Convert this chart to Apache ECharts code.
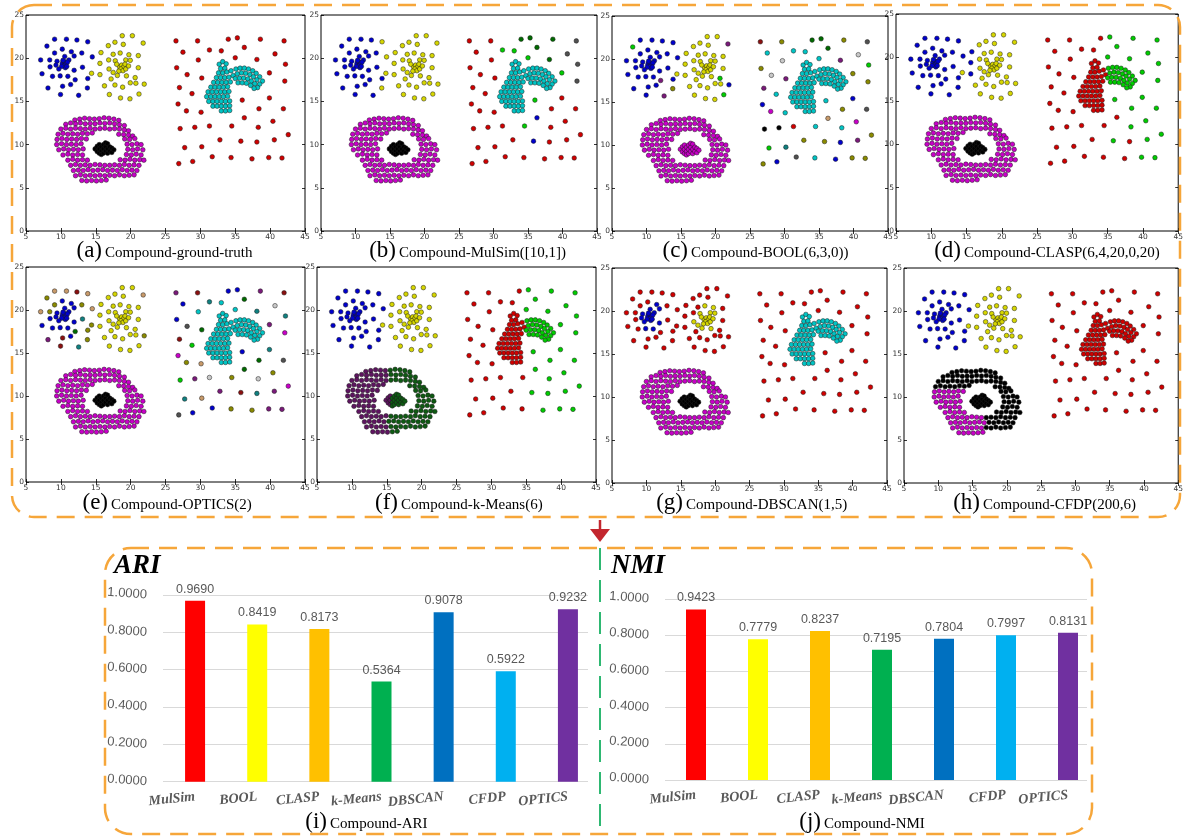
<!DOCTYPE html>
<html>
<head>
<meta charset="utf-8">
<script src="https://cdn.jsdelivr.net/npm/echarts@6/dist/echarts.min.js"></script>
<style>
html,body{margin:0;padding:0;background:#fff;}
#chart{width:1186px;height:838px;}
</style>
</head>
<body>
<div id="chart"></div>
<script>
// ---------------- Compound data set (x, y) grouped by structure ----------------
const blueXY = [
  [9.1,22.2],[10.8,22.2],[12.3,22.1],[13.85,21.9],[8.0,21.4],[10.2,21.05],[9.1,20.6],[11.5,20.75],[13.0,20.6],[14.5,20.15],
  [7.1,19.8],[8.4,19.8],[9.45,19.65],[10.55,20.2],[11.9,20.25],[11.15,19.8],
  [10.2,19.4],[10.5,19.6],[10.75,19.35],[10.4,19.1],[10.65,18.9],[10.95,19.55],[10.3,19.75],[10.85,19.05],[10.1,19.05],
  [9.3,19.2],[8.45,19.0],[9.7,18.75],[11.9,18.6],[13.1,18.95],
  [7.3,18.2],[8.8,17.9],[9.9,17.95],[11.0,17.9],[13.85,17.65],[12.05,17.5],
  [10.25,16.75],[11.4,16.95],[8.15,16.55],[9.95,15.8],[12.55,15.7],[13.8,16.55]
];
const yellowXY = [
  [18.8,22.6],[20.25,22.6],[17.75,21.85],[18.95,21.6],[21.8,21.75],[16.8,21.45],[15.75,20.65],[17.5,20.45],[18.5,20.6],[19.75,20.4],
  [21.1,20.3],[15.6,19.4],[16.85,19.8],[17.8,19.7],[19.3,19.8],[19.95,19.75],[21.1,18.9],
  [18.4,19.0],[18.7,19.2],[19.0,19.0],[18.6,18.75],[18.9,18.55],[19.2,19.3],[18.3,18.5],[19.3,18.75],
  [16.9,18.75],[17.5,18.35],[18.1,18.0],[19.4,17.95],[20.65,17.75],
  [14.4,18.25],[15.6,18.1],[17.2,17.6],[20.75,17.1],[21.95,17.0],
  [16.25,16.8],[17.75,16.9],[18.85,16.65],[19.95,17.15],
  [16.95,15.8],[18.55,15.4],[19.9,15.3],[21.2,15.85],
  [18.0,19.3],[19.7,19.1]
];
const sparseXY = [
  [26.5,22.0],[29.6,22.0],[27.5,20.7],[31.3,20.95],[33.0,20.85],[34.0,22.2],[35.3,22.35],[38.6,22.2],[42.0,22.0],[36.3,21.25],
  [35.0,20.05],[29.7,19.8],[38.1,19.85],[40.7,20.5],[42.2,19.3],[26.6,18.9],[28.1,18.1],[30.2,17.7],[39.9,18.3],[42.1,17.35],
  [27.0,16.6],[28.8,15.9],[26.8,14.7],[36.0,15.15],[39.9,15.4],[28.0,13.9],[30.1,13.75],[38.4,14.15],[41.9,14.15],[36.3,13.1],
  [40.4,12.7],[27.1,11.85],[29.2,12.0],[31.3,12.15],[34.5,12.15],[38.3,12.0],[42.6,11.15],[32.8,10.55],[35.8,10.4],[38.1,10.3],
  [40.6,10.55],[27.75,9.65],[30.2,9.75],[31.7,8.6],[34.4,8.5],[37.4,8.35],[39.8,8.5],[41.7,8.45],[26.9,7.8],[28.9,8.05]
];
const arcLeftXY = [
  [32.7,19.3],[33.2,19.6],[33.7,19.35],[32.9,18.8],[33.5,18.85],[32.6,18.3],[33.2,18.3],[33.8,18.4],
  [32.3,17.75],[32.9,17.75],[33.5,17.75],[34.1,17.8],
  [31.9,17.2],[32.5,17.2],[33.1,17.2],[33.7,17.2],[34.3,17.25],
  [31.5,16.65],[32.1,16.65],[32.7,16.65],[33.3,16.65],[33.9,16.7],
  [31.1,16.1],[31.7,16.1],[32.3,16.1],[32.9,16.1],[33.5,16.1],[34.1,16.15],
  [30.9,15.55],[31.5,15.55],[32.1,15.55],[32.7,15.55],[33.3,15.55],[33.9,15.6],
  [31.2,15.0],[31.8,15.0],[32.4,15.0],[33.0,15.0],[33.6,15.0],[34.2,15.05],
  [31.8,14.45],[32.4,14.45],[33.0,14.45],[33.6,14.45],[34.2,14.5],
  [33.0,13.9],[33.6,13.9],[34.2,13.95],
  [34.4,18.55],[34.7,18.0]
];
const arcRightXY = [
  [35.1,18.75],[35.7,18.85],[36.3,18.85],[36.9,18.75],[37.5,18.55],[38.0,18.25],[38.5,17.85],[38.9,17.35],
  [35.3,18.2],[35.9,18.3],[36.5,18.25],[37.1,18.1],[37.6,17.85],[38.1,17.5],[38.5,17.0],
  [35.0,17.65],[35.6,17.7],[36.2,17.7],[36.8,17.6],[37.3,17.35],[37.8,17.05],[38.2,16.6],
  [35.4,17.15],[36.0,17.15],[36.6,17.1],[37.2,16.85],[37.7,16.5]
];
const ringUpperLeftXY = [
  [12.0,12.85],[12.7,12.95],[13.4,13.05],[14.1,13.0],[14.8,12.95],
  [10.7,12.35],[11.4,12.5],[12.1,12.4],[12.8,12.5],[13.5,12.4],[14.2,12.45],[14.9,12.4],
  [10.0,11.8],[10.7,11.9],[11.4,11.8],[12.1,11.9],[12.8,11.85],[13.5,11.8],[14.2,11.9],[14.9,11.8],
  [9.6,11.2],[10.3,11.3],[11.0,11.2],[11.7,11.25],[12.4,11.2],[13.1,11.3],[13.8,11.25],[14.5,11.35]
];
const ringUpperRightXY = [
  [15.5,13.0],[16.2,13.1],[16.9,13.05],[17.6,12.95],[18.3,12.8],
  [15.6,12.5],[16.3,12.45],[17.0,12.5],[17.7,12.4],[18.4,12.3],[19.1,12.2],
  [15.6,11.85],[16.3,11.9],[17.0,11.8],[17.7,11.85],[18.4,11.8],[19.1,11.7],[19.7,11.6],
  [18.3,11.2],[19.0,11.15],[19.7,11.1],[20.3,11.0]
];
const ringLowerLeftXY = [
  [9.45,10.6],[10.15,10.7],[10.85,10.6],[11.55,10.65],[12.25,10.6],[12.95,10.7],[13.65,10.65],
  [9.4,10.0],[10.1,10.1],[10.8,10.0],[11.5,10.05],[12.2,10.0],[12.9,10.1],
  [9.7,9.4],[10.4,9.5],[11.1,9.4],[11.8,9.45],[12.5,9.4],[13.2,9.5],
  [10.3,8.8],[11.0,8.9],[11.7,8.8],[12.4,8.85],[13.1,8.8],
  [11.0,8.2],[11.7,8.3],[12.4,8.2],[13.1,8.25],[13.8,8.2],
  [11.4,7.6],[12.1,7.7],[12.8,7.6],[13.5,7.65],[14.2,7.6],[14.9,7.7],
  [11.8,7.0],[12.5,7.05],[13.2,7.0],[13.9,7.1],[14.6,7.0],
  [12.1,6.4],[12.8,6.5],[13.5,6.4],[14.2,6.45],[14.9,6.4],
  [13.0,5.85],[13.7,5.8],[14.4,5.85],[15.1,5.8]
];
const ringLowerMidXY = [
  [15.6,7.65],[16.3,7.6],[15.3,7.05],[16.0,7.1],[16.7,7.0],[15.6,6.45],[16.3,6.4],[15.8,5.85],[16.5,5.9]
];
const ringLowerRightXY = [
  [19.15,10.65],[19.85,10.6],[20.6,10.7],
  [19.5,10.05],[20.2,10.0],[20.9,10.1],[21.5,10.0],
  [19.6,9.45],[20.3,9.4],[21.0,9.5],[21.75,9.4],
  [19.4,8.85],[20.1,8.8],[20.8,8.9],[21.5,8.8],
  [18.5,8.25],[19.2,8.2],[19.9,8.3],[20.6,8.2],[21.3,8.25],[21.9,8.2],
  [17.0,7.6],[17.7,7.65],[18.4,7.6],[19.1,7.7],[19.8,7.6],[20.5,7.65],[21.2,7.6],
  [17.4,7.05],[18.1,7.0],[18.8,7.1],[19.5,7.0],[20.2,7.05],[20.9,7.0],
  [17.0,6.45],[17.7,6.4],[18.4,6.5],[19.1,6.4],[19.8,6.45],[20.5,6.5]
];
const coreLeftXY = [[14.9,9.5],[15.2,9.2],[15.2,9.8],[15.5,9.0],[15.5,9.5],[15.5,10.0]];
const coreRightXY = [
  [15.8,9.25],[15.8,9.75],[15.8,8.85],[16.1,9.0],[16.1,9.5],[16.1,10.0],[16.4,9.25],[16.4,9.75],[16.4,10.2],
  [16.7,9.0],[16.7,9.5],[16.7,10.1],[17.0,9.25],[17.0,9.75],[17.3,9.1],[17.3,9.6],[17.6,9.4]
];

// ---------------- cluster labels of each method (one colour code per point) ----------------
function only(code, list) { const o = {}; list.forEach(i => { o[i] = code; }); return o; }
const panelLabels = [
  { blue:'b', yellow:'y', sparse:'r', arc:'c', ring:'m', core:'x' },
  { blue:{base:'b', ex:{3:'y',9:'y',41:'y'}}, yellow:'y',
    sparse:{base:'r', ex:{3:'g',4:'g',5:'G',6:'G',7:'G',8:'k',9:'G',10:'g',12:'G',13:'k',14:'k',18:'g',19:'k',23:'g',29:'b',34:'g',38:'b'}},
    arc:'c', ring:'m', core:'x' },
  { blue:{base:'b', ex:{4:'g',35:'p',40:'p',41:'o'}}, yellow:{base:'y', ex:{4:'p',29:'g',34:'b',42:'g'}},
    sparse:'RocccGGokGcwpwgowpoopcbcbmcoknmxxrccooobpgtkcbooob', arc:'c', ring:'m', core:'m' },
  { blue:'b', yellow:{base:'y', ex:{6:'b',11:'b',31:'b'}},
    sparse:{base:'r', ex:only('g',[6,7,8,9,10,12,13,14,18,19,23,24,27,28,30,35,36,38,40,46,47])},
    arcL:'r', arcR:'g', ring:'m', core:'x' },
  { blue:{base:'b', ex:{0:'n',1:'n',2:'R',3:'n',4:'o',6:'o',8:'o',9:'n',10:'n',11:'o',29:'t',34:'o',35:'G',36:'R',38:'p',39:'R',40:'t',41:'o'}},
    yellow:{base:'y', ex:{4:'n',30:'o',34:'o'}},
    sparse:'pRbtcbbpRGcctwtbkGpmRgmbtonGkGogpwowmpRtptnbooppkb', arc:'c', ring:'m', core:'x' },
  { blue:'b', yellow:'y',
    sparse:{base:'r', ex:only('g',[6,7,8,9,10,12,13,14,18,19,23,24,27,28,29,30,35,36,38,39,40,45,46,47])},
    arcL:'r', arcR:'g', ringUL:'P', ringLL:'P', ringUR:'D', ringLM:'D', ringLR:'D', coreL:'P', coreR:'D' },
  { blue:{base:'r', ex:only('b',[7,12,13,14,15,16,17,18,19,20,21,22,23,24,25,27,28,32,33])},
    yellow:{base:'r', ex:only('y',[8,9,13,14,15,17,18,19,20,21,22,23,24,25,26,27,28,43,44])},
    sparse:'r', arc:'c', ring:'m', core:'x' },
  { blue:'b', yellow:'y', sparse:'r', arc:'r', ringUL:'x', ringUR:'x', ringLR:'x', ringLL:'m', ringLM:'m', core:'x' }
];
const captionTags = ['(a)','(b)','(c)','(d)','(e)','(f)','(g)','(h)'];
const captionTexts = ['Compound-ground-truth','Compound-MulSim([10,1])','Compound-BOOL(6,3,0))','Compound-CLASP(6,4,20,0,20)',
  'Compound-OPTICS(2)','Compound-k-Means(6)','Compound-DBSCAN(1,5)','Compound-CFDP(200,6)'];
const xTicks = [5,10,15,20,25,30,35,40,45];
const yTicks = [0,5,10,15,20,25];

// ---------------- evaluation scores ----------------
const methods = ['MulSim','BOOL','CLASP','k-Means','DBSCAN','CFDP','OPTICS'];
const ariScores = [0.9690, 0.8419, 0.8173, 0.5364, 0.9078, 0.5922, 0.9232];
const nmiScores = [0.9423, 0.7779, 0.8237, 0.7195, 0.7804, 0.7997, 0.8131];
const scoreTicks = [0, 0.2, 0.4, 0.6, 0.8, 1.0];

// ---------------- styling ----------------
const PAL = {
  b:'#0000cc', y:'#d6d600', r:'#d00000', c:'#00c4c4', m:'#c800c8', x:'#000000',
  g:'#00cc00', G:'#006a00', k:'#505050', w:'#c8c8c8', p:'#7a1a7a', R:'#8a1010',
  o:'#8a8a00', t:'#108080', n:'#c89a6a', P:'#5e1460', D:'#0e5a12'
};
const barColors = ['#FF0000','#FFFF00','#FFC000','#00B050','#0070C0','#00B0F0','#7030A0'];
const ORANGE = '#F6A63A';

// scatter panel rectangles: [left, top, width, height]
const panelBoxes = [
  [26,15,279,216],[321,15,276,216],[612,16,276,215],[896,14,284,217],
  [26,267,279,215],[317,267,279,215],[612,268,275,215],[904,268,276,215]
];
const captionAnchors = [[102,258],[396,258],[688,258],[961,258],[108,510],[398,510],[683,510],[980,510]];

const groups = [
  ['sparse','sparse',sparseXY],['arcL','arc',arcLeftXY],['arcR','arc',arcRightXY],
  ['blue','blue',blueXY],['yellow','yellow',yellowXY],
  ['ringUL','ring',ringUpperLeftXY],['ringUR','ring',ringUpperRightXY],['ringLL','ring',ringLowerLeftXY],
  ['ringLM','ring',ringLowerMidXY],['ringLR','ring',ringLowerRightXY],
  ['coreL','core',coreLeftXY],['coreR','core',coreRightXY]
];
function codeOf(spec, i) {
  if (typeof spec === 'string') return spec.length === 1 ? spec : spec[i];
  return (spec.ex && spec.ex[i]) || spec.base;
}

const grid = [], xAxis = [], yAxis = [], series = [], graphic = [];
const tickFont = { fontFamily:'DejaVu Sans', fontSize:7.5, color:'#333' };

panelBoxes.forEach((bx, pi) => {
  grid.push({ left:bx[0], top:bx[1], width:bx[2], height:bx[3], show:true,
    borderColor:'#000', borderWidth:1, backgroundColor:'#fff' });
  const tick = { show:true, inside:true, length:3, lineStyle:{ color:'#000', width:0.8 } };
  xAxis.push({ gridIndex:pi, type:'value', min:xTicks[0], max:xTicks[xTicks.length-1], interval:5, position:'bottom',
    axisLine:{show:false}, axisTick:tick, splitLine:{show:false},
    axisLabel:Object.assign({ margin:2 }, tickFont) });
  xAxis.push({ gridIndex:pi, type:'value', min:xTicks[0], max:xTicks[xTicks.length-1], interval:5, position:'top',
    axisLine:{show:false}, axisTick:tick, splitLine:{show:false}, axisLabel:{show:false} });
  yAxis.push({ gridIndex:pi, type:'value', min:yTicks[0], max:yTicks[yTicks.length-1], interval:5, position:'left',
    axisLine:{show:false}, axisTick:tick, splitLine:{show:false},
    axisLabel:Object.assign({ margin:2 }, tickFont) });
  yAxis.push({ gridIndex:pi, type:'value', min:yTicks[0], max:yTicks[yTicks.length-1], interval:5, position:'right',
    axisLine:{show:false}, axisTick:tick, splitLine:{show:false}, axisLabel:{show:false} });

  const labels = panelLabels[pi];
  const byColor = {};
  const order = [];
  groups.forEach(([key, family, pts]) => {
    const spec = labels[key] !== undefined ? labels[key] : labels[family];
    pts.forEach((p, i) => {
      const code = codeOf(spec, i);
      if (!byColor[code]) { byColor[code] = []; order.push(code); }
      byColor[code].push(p);
    });
  });
  order.forEach(code => {
    series.push({ type:'scatter', xAxisIndex:2*pi, yAxisIndex:2*pi, data:byColor[code], symbol:'circle', symbolSize:4.6,
      silent:true, itemStyle:{ color:PAL[code], borderColor:'#1a1a1a', borderWidth:0.5, opacity:1 } });
  });

  const [cx, base] = captionAnchors[pi];
  graphic.push({ type:'text', x:cx, y:base - 7, style:{ text:captionTags[pi], fill:'#000',
    font:'23px "Liberation Serif"', textAlign:'right', textVerticalAlign:'middle' } });
  graphic.push({ type:'text', x:cx + 3, y:base - 4.5, style:{ text:captionTexts[pi], fill:'#000',
    font:'15px "Liberation Serif"', textAlign:'left', textVerticalAlign:'middle' } });
});

// ---------------- bar charts ----------------
function addBarChart(lineBox, barBox, values, axisBase) {
  const gLines = grid.length;
  grid.push({ left:lineBox[0], top:lineBox[1], width:lineBox[2], height:lineBox[3] });
  grid.push({ left:barBox[0], top:barBox[1], width:barBox[2], height:barBox[3] });
  xAxis.push({ gridIndex:gLines, type:'category', data:methods, show:false });
  yAxis.push({ gridIndex:gLines, type:'value', min:scoreTicks[0], max:scoreTicks[scoreTicks.length-1], interval:0.2,
    axisLine:{show:false}, axisTick:{show:false},
    splitLine:{ lineStyle:{ color:'#d9d9d9', width:1 } },
    axisLabel:{ formatter:v => v.toFixed(4), color:'#595959', fontSize:13, fontFamily:'Liberation Sans',
      margin:16, rotate:-4 } });
  xAxis.push({ gridIndex:gLines+1, type:'category', data:methods,
    axisLine:{show:false}, axisTick:{show:false},
    axisLabel:{ rotate:6, margin:15, color:'#595959', fontSize:14, fontStyle:'italic', fontWeight:'bold',
      fontFamily:'Liberation Serif', interval:0 } });
  yAxis.push({ gridIndex:gLines+1, type:'value', min:scoreTicks[0], max:scoreTicks[scoreTicks.length-1], show:false });
  series.push({ type:'bar', xAxisIndex:axisBase+1, yAxisIndex:axisBase+1, barWidth:20, silent:true,
    data:values.map((v, i) => ({ value:v, itemStyle:{ color:barColors[i] } })),
    label:{ show:true, position:'top', distance:5, formatter:p => p.value.toFixed(4),
      color:'#595959', fontSize:12.5, fontFamily:'Liberation Sans' } });
}
addBarChart([163,595,425,186.7], [164,595,435,186.7], ariScores, 16);
addBarChart([665,599,422,181], [665,599,434,181], nmiScores, 18);

// ---------------- frames, titles, captions ----------------
graphic.push({ type:'rect', z:100, shape:{ x:12, y:5, width:1168, height:512, r:22 },
  style:{ fill:'none', stroke:ORANGE, lineWidth:2.5, lineDash:[18,10] } });
graphic.push({ type:'rect', z:100, shape:{ x:105, y:548, width:987, height:286, r:26 },
  style:{ fill:'none', stroke:ORANGE, lineWidth:2.5, lineDash:[18,10] } });
graphic.push({ type:'line', z:100, shape:{ x1:600, y1:548, x2:600, y2:834 },
  style:{ stroke:'#2EB872', lineWidth:2, lineDash:[22,10] } });
graphic.push({ type:'line', z:100, shape:{ x1:600, y1:520, x2:600, y2:531 },
  style:{ stroke:'#C3262E', lineWidth:2.5 } });
graphic.push({ type:'polygon', z:100, shape:{ points:[[590,529],[610,529],[600,542]] },
  style:{ fill:'#C3262E' } });
graphic.push({ type:'text', x:114, y:566, style:{ text:'ARI', fill:'#000',
  font:'italic bold 27px "Liberation Serif"', textAlign:'left', textVerticalAlign:'middle' } });
graphic.push({ type:'text', x:611, y:566, style:{ text:'NMI', fill:'#000',
  font:'italic bold 27px "Liberation Serif"', textAlign:'left', textVerticalAlign:'middle' } });
[[327,829,'(i)','Compound-ARI'],[821,829,'(j)','Compound-NMI']].forEach(([cx, base, tag, txt]) => {
  graphic.push({ type:'text', x:cx, y:base - 7, style:{ text:tag, fill:'#000',
    font:'23px "Liberation Serif"', textAlign:'right', textVerticalAlign:'middle' } });
  graphic.push({ type:'text', x:cx + 3, y:base - 4.5, style:{ text:txt, fill:'#000',
    font:'15px "Liberation Serif"', textAlign:'left', textVerticalAlign:'middle' } });
});

const chart = echarts.init(document.getElementById('chart'), null, { renderer:'canvas' });
chart.setOption({ animation:false, backgroundColor:'#fff', grid, xAxis, yAxis, series, graphic });
</script>
</body>
</html>
